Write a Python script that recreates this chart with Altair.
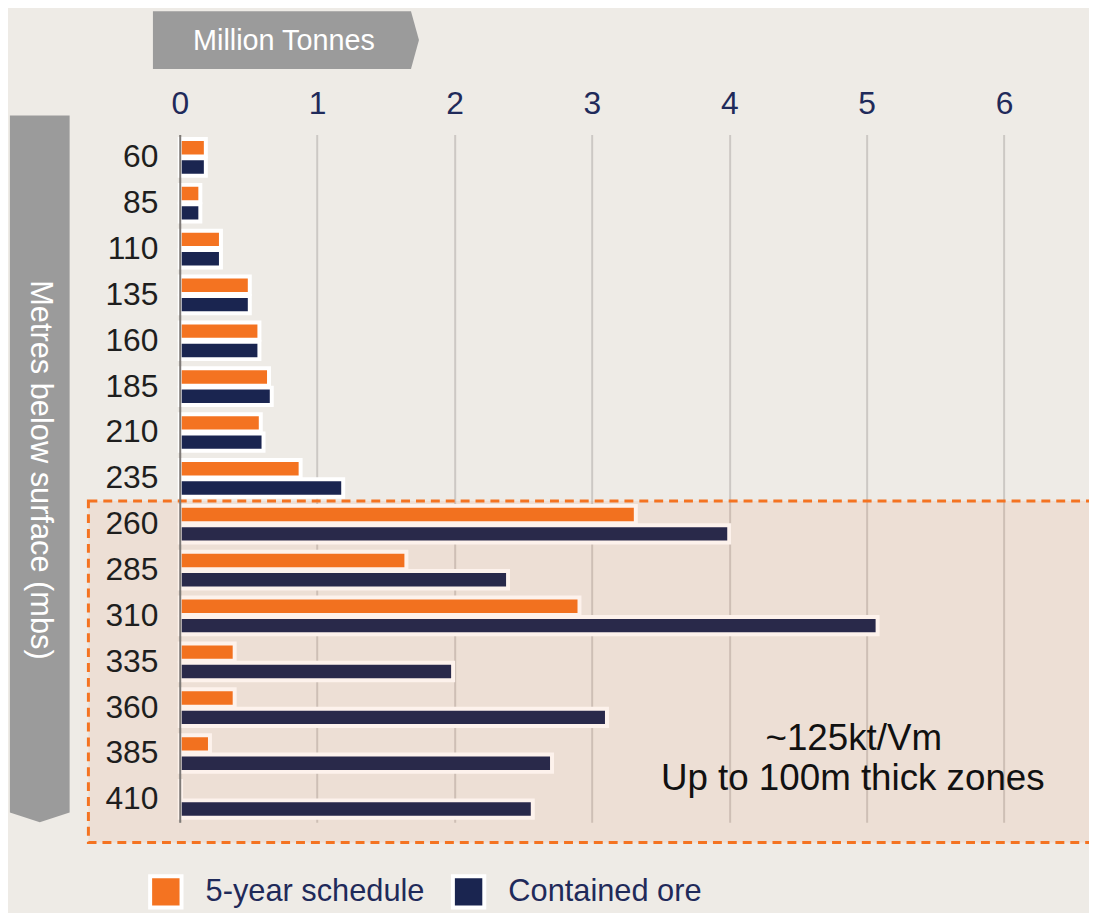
import altair as alt
import pandas as pd

# ---- data ----
depths = [60, 85, 110, 135, 160, 185, 210, 235, 260, 285, 310, 335, 360, 385, 410]
schedule = [0.19, 0.15, 0.30, 0.51, 0.58, 0.65, 0.59, 0.88, 3.32, 1.65, 2.91, 0.40, 0.40, 0.22, 0.01]
contained = [0.19, 0.15, 0.30, 0.51, 0.58, 0.67, 0.61, 1.19, 4.00, 2.39, 5.08, 1.99, 3.11, 2.71, 2.57]
series_names = ["5-year schedule", "Contained ore"]
series_colors = ["#F47321", "#1A2550"]
x_ticks = [0, 1, 2, 3, 4, 5, 6]
highlight_from = 260
highlight_to = 410
note_lines = ["~125kt/Vm", "Up to 100m thick zones"]
x_title = "Million Tonnes"
y_title = "Metres below surface (mbs)"

rows = []
for d, s, c in zip(depths, schedule, contained):
    rows.append({"depth": d, "series": series_names[0], "value": s})
    rows.append({"depth": d, "series": series_names[1], "value": c})
bars_df = pd.DataFrame(rows)
hl_df = pd.DataFrame({"top": [highlight_from], "bottom": [highlight_to]})
one = pd.DataFrame({"a": [0]})

FONT = "Liberation Sans"
W, H = 912, 693

x_scale = alt.Scale(domain=[0, 6.59], nice=False, zero=True)
y_scale = alt.Scale(paddingInner=0.2, paddingOuter=0.1)

y_axis = alt.Axis(title=None, ticks=False, domainColor="#7E7A77", domainWidth=2,
                  labelFontSize=32, labelColor="#1E1E1E", labelFont=FONT,
                  labelPadding=22, grid=False, zindex=1)

bars = alt.Chart(bars_df).mark_bar(stroke="white", strokeWidth=4).encode(
    x=alt.X("value:Q", scale=x_scale,
            axis=alt.Axis(orient="top", values=x_ticks, format="d", title=None,
                          domain=False, ticks=False, labelFontSize=32, labelFlush=False,
                          labelColor="#1F2A5A", labelFont=FONT, labelPadding=14,
                          grid=True, gridColor="#CCC8C4", gridWidth=2, zindex=0)),
    y=alt.Y("depth:O", scale=y_scale, axis=y_axis),
    yOffset=alt.YOffset("series:N", scale=alt.Scale(paddingInner=0.1, paddingOuter=0)),
    color=alt.Color("series:N",
                    scale=alt.Scale(domain=series_names, range=series_colors),
                    legend=alt.Legend(title=None, orient="none", legendX=-32, legendY=745,
                                      direction="horizontal", symbolType="square",
                                      symbolSize=1000, symbolStrokeColor="white",
                                      symbolStrokeWidth=4, symbolOpacity=1,
                                      labelFontSize=31, labelColor="#1F2A5A",
                                      labelFont=FONT, labelOffset=22, columnPadding=20,
                                      labelLimit=500, padding=0)),
)

box = alt.Chart(hl_df).mark_rect(
    fill="#E05A10", fillOpacity=0.08, stroke="#F47321", strokeWidth=3,
    strokeDash=[9, 6], yOffset=-5, y2Offset=25
).encode(
    x=alt.value(-92), x2=alt.value(1000),
    y=alt.Y("top:O", bandPosition=0, axis=y_axis),
    y2=alt.Y2("bottom", bandPosition=1),
)

note1 = alt.Chart(one).mark_text(text=note_lines[0], font=FONT, fontSize=37, color="#111111",
                                 align="center", baseline="middle").encode(
    x=alt.value(679), y=alt.value(609))
note2 = alt.Chart(one).mark_text(text=note_lines[1], font=FONT, fontSize=37, color="#111111",
                                 align="center", baseline="middle").encode(
    x=alt.value(678), y=alt.value(649))

XPATH = "M -1 -0.217 L 0.94 -0.217 L 1 0 L 0.94 0.217 L -1 0.217 Z"
YPATH = "M -0.0845 -1 L 0.0845 -1 L 0.0845 0.972 L 0 1 L -0.0845 0.972 Z"

xbanner = alt.Chart(one).mark_point(shape=XPATH, filled=True, color="#9B9B9B", opacity=1,
                                    size=268 ** 2, strokeWidth=0).encode(
    x=alt.value(107), y=alt.value(-95))
xbanner_text = alt.Chart(one).mark_text(text=x_title, font=FONT, fontSize=29, color="white",
                                        align="center", baseline="middle").encode(
    x=alt.value(105), y=alt.value(-94))
ybanner = alt.Chart(one).mark_point(shape=YPATH, filled=True, color="#9B9B9B", opacity=1,
                                    size=712 ** 2, strokeWidth=0).encode(
    x=alt.value(-141), y=alt.value(337))
ybanner_text = alt.Chart(one).mark_text(text=y_title, font=FONT, fontSize=31, color="white",
                                        align="center", baseline="middle", angle=90).encode(
    x=alt.value(-141), y=alt.value(338))

chart = alt.layer(
    xbanner, xbanner_text, ybanner, ybanner_text, bars, box, note1, note2
).properties(
    width=W, height=H,
    padding={"left": 173, "top": 124, "right": 4, "bottom": 89},
    autosize=alt.AutoSizeParams(type="none"),
).configure(
    background="#EEEBE6"
).configure_view(stroke=None)

chart.save("out.html", embed_options={"renderer": "svg", "actions": False})
